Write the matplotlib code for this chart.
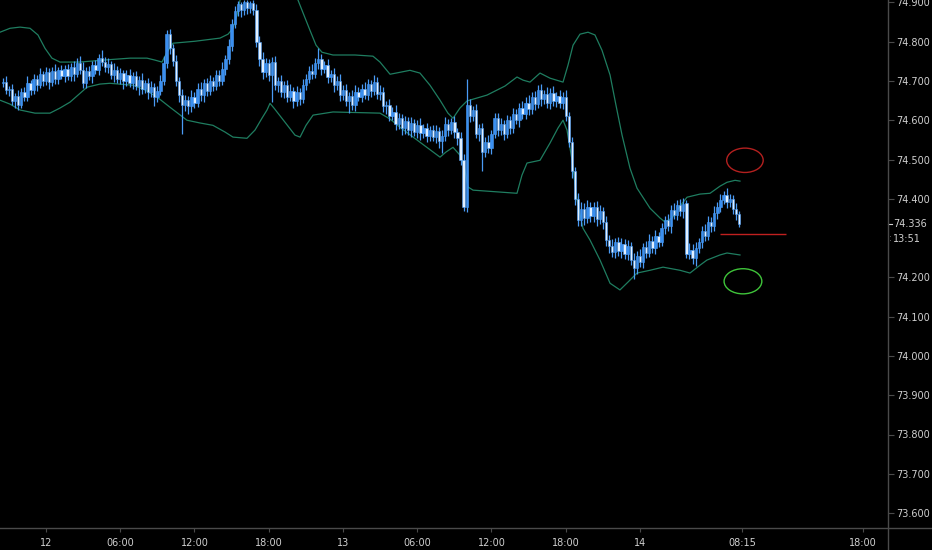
import matplotlib
matplotlib.use("Agg")
import matplotlib.pyplot as plt
from matplotlib.patches import Ellipse
from matplotlib.lines import Line2D

# ------------------------------------------------------------
# Data: 15-minute candles, prices in thousandths above 74.000
# time axis in hours from the 12th 00:00
# ------------------------------------------------------------
first_hour = -3.5
candle_step = 0.25
first_open = 695

closes = [
    698, 676, 680, 650, 662, 640, 672, 660, 695, 678,
    705, 690, 718, 700, 722, 698, 725, 705, 728, 712,
    730, 712, 735, 718, 745, 728, 695, 725, 712, 740,
    728, 758, 748, 735, 742, 715, 728, 705, 720, 700,
    715, 695, 712, 688, 702, 680, 695, 672, 685, 660,
    675, 700, 745, 820, 785, 750, 700, 665, 640, 652,
    635, 660, 645, 680, 665, 695, 675, 700, 688, 715,
    700, 730, 755, 790, 845, 878, 895, 880, 900, 885,
    898, 880, 800, 755, 722, 745, 715, 748, 690, 700,
    672, 690, 660, 675, 650, 672, 655, 690, 705, 725,
    718, 745, 755, 730, 740, 710, 718, 690, 700, 665,
    678, 650, 662, 640, 672, 660, 680, 665, 692, 675,
    698, 668, 672, 635, 640, 612, 622, 590, 605, 580,
    598, 575, 592, 570, 588, 568, 580, 560, 575, 558,
    572, 548, 560, 590, 575, 595, 570, 555, 500, 380,
    640, 612, 625, 565, 580, 520, 545, 530, 565, 605,
    575, 590, 565, 600, 580, 615, 600, 632, 615, 645,
    628, 658, 642, 678, 655, 668, 645, 670, 648, 662,
    645, 660, 610, 545, 470, 400, 345, 375, 350, 380,
    355, 378, 348, 370, 340, 295, 280, 265, 290, 268,
    285, 260, 280, 245, 225, 255, 240, 278, 262, 292,
    275, 305, 290, 325, 345, 330, 372, 360, 385, 368,
    388, 260, 270, 248, 275, 290, 318, 305, 342, 330,
    365, 380, 398, 410, 392, 400, 375, 362, 336,
]

up_wick = [
    10, 14, 8, 12, 7, 16, 10, 13, 18, 8,
    13, 10, 16, 8, 14, 11, 10, 17, 8, 13,
    11, 14, 10, 16, 13, 18, 20, 10, 13, 11,
    14, 10, 22, 13, 16, 10, 18, 11, 14, 8,
    13, 16, 10, 14, 11, 17, 8, 13, 16, 10,
    11, 14, 18, 9, 13, 10, 16, 11, 14, 13,
    10, 16, 11, 14, 18, 10, 13, 16, 11, 14,
    13, 17, 10, 16, 13, 14, 8, 6, 5, 7,
    6, 8, 16, 14, 18, 13, 11, 13, 16, 10,
    14, 11, 13, 18, 10, 14, 11, 16, 13, 14,
    17, 13, 28, 14, 11, 16, 10, 14, 13, 18,
    11, 14, 10, 16, 18, 13, 11, 17, 14, 10,
    16, 11, 18, 13, 10, 14, 11, 16, 13, 10,
    14, 11, 16, 10, 13, 17, 11, 14, 10, 13,
    16, 11, 14, 18, 13, 10, 16, 11, 14, 13,
    66, 13, 11, 16, 10, 14, 13, 17, 11, 14,
    13, 16, 11, 14, 10, 17, 13, 11, 16, 14,
    18, 13, 16, 11, 14, 10, 17, 13, 16, 11,
    14, 13, 16, 10, 13, 11, 14, 18, 13, 16,
    11, 14, 17, 13, 10, 16, 13, 18, 11, 14,
    16, 13, 14, 11, 17, 13, 16, 10, 14, 18,
    13, 16, 11, 14, 10, 17, 13, 16, 11, 14,
    13, 10, 18, 14, 16, 11, 13, 17, 14, 11,
    16, 13, 14, 11, 18, 13, 10, 14, 6,
]

dn_wick = [
    11, 8, 14, 10, 18, 13, 8, 11, 10, 14,
    10, 16, 8, 13, 11, 18, 10, 14, 13, 8,
    14, 10, 13, 18, 8, 11, 14, 13, 10, 16,
    11, 14, 10, 13, 16, 11, 18, 10, 14, 20,
    13, 10, 16, 11, 24, 14, 10, 18, 13, 25,
    14, 11, 10, 13, 16, 13, 14, 18, 75, 16,
    18, 13, 14, 11, 16, 18, 13, 10, 14, 11,
    13, 10, 16, 11, 14, 10, 13, 16, 11, 14,
    13, 11, 14, 16, 18, 13, 16, 69, 14, 18,
    13, 16, 14, 11, 18, 13, 16, 10, 14, 11,
    13, 10, 14, 16, 11, 14, 13, 18, 14, 16,
    13, 14, 32, 13, 16, 11, 14, 10, 13, 16,
    11, 14, 16, 13, 18, 14, 11, 16, 13, 18,
    14, 13, 17, 11, 14, 18, 13, 16, 14, 11,
    16, 18, 31, 13, 14, 11, 16, 18, 14, 12,
    13, 16, 14, 11, 18, 50, 14, 13, 16, 11,
    14, 13, 16, 11, 14, 13, 10, 16, 13, 11,
    14, 13, 16, 11, 18, 14, 13, 16, 11, 14,
    13, 16, 11, 14, 18, 16, 14, 13, 16, 11,
    14, 13, 18, 11, 16, 14, 17, 13, 16, 14,
    18, 13, 16, 14, 30, 17, 13, 16, 14, 11,
    14, 16, 13, 11, 14, 13, 16, 11, 14, 13,
    16, 11, 14, 13, 18, 14, 16, 13, 11, 14,
    13, 16, 14, 11, 16, 14, 13, 16, 8,
]

# Bollinger bands (hours, thousandths above 74.000)
upper_hours = [-3.72, -2.91, -2.10, -1.29, -0.65, -0.08, 0.48, 1.13, 2.75, 4.61,
               6.79, 8.16, 8.81, 9.37, 9.78, 10.26, 12.04, 14.06, 14.71, 15.11,
               15.43, 15.76, 16.48, 17.70, 18.91, 19.72, 20.36, 20.85, 21.33, 21.82,
               22.30, 23.19, 24.97, 26.42, 26.99, 27.80, 28.61, 29.41, 30.22, 31.03,
               31.84, 32.48, 32.89, 33.45, 34.02, 35.64, 37.09, 38.06, 38.55, 39.11,
               39.92, 40.73, 41.78, 42.18, 42.59, 43.15, 43.80, 44.36, 44.93, 45.58,
               46.06, 46.55, 47.19, 47.76, 48.81, 49.62, 50.02, 50.59, 51.23, 51.80,
               52.85, 53.66, 54.46, 55.03, 55.68, 56.08]
upper_band = [824, 834, 837, 834, 817, 783, 758, 748, 748, 753,
              758, 758, 753, 748, 773, 796, 801, 809, 819, 834,
              867, 918, 982, 1020, 995, 944, 906, 867, 829, 791,
              773, 766, 766, 763, 748, 717, 722, 727, 720, 689,
              651, 618, 605, 631, 649, 664, 687, 710, 702, 697,
              720, 707, 697, 740, 791, 819, 824, 817, 778, 715,
              638, 562, 478, 427, 376, 351, 341, 351, 381, 404,
              412, 414, 432, 442, 447, 445]

lower_hours = [-3.72, -2.91, -2.10, -0.89, 0.32, 1.13, 1.94, 2.59, 3.31, 4.36,
               5.17, 7.03, 8.00, 8.97, 10.02, 11.39, 12.44, 13.49, 14.46, 15.11,
               16.24, 16.89, 17.45, 17.86, 18.10, 18.42, 19.31, 20.12, 20.53, 21.01,
               21.58, 23.19, 26.99, 27.80, 28.61, 30.22, 31.84, 32.32, 32.89, 33.45,
               33.78, 34.10, 34.51, 38.06, 38.46, 38.87, 39.92, 40.73, 41.37, 41.78,
               42.10, 42.51, 42.91, 43.39, 43.96, 44.77, 45.58, 46.38, 47.03, 47.76,
               48.81, 49.86, 51.23, 52.04, 52.85, 53.41, 54.46, 55.03, 56.08]
lower_band = [651, 641, 626, 618, 618, 631, 646, 664, 684, 692,
              694, 689, 677, 659, 633, 600, 593, 587, 570, 557,
              554, 575, 605, 626, 643, 631, 595, 562, 557, 587,
              613, 621, 618, 603, 582, 544, 506, 519, 531, 511,
              486, 430, 422, 414, 460, 491, 498, 542, 580, 600,
              575, 498, 397, 325, 295, 244, 185, 168, 188, 211,
              218, 226, 218, 211, 231, 244, 257, 262, 257]

# Price axis / time axis labels
price_ticks = [73.6, 73.7, 73.8, 73.9, 74.0, 74.1, 74.2, 74.4, 74.5, 74.6, 74.7, 74.8, 74.9]
time_ticks = [0, 6, 12, 18, 24, 30, 36, 42, 48, 56.25, 66]
time_labels = ["12", "06:00", "12:00", "18:00", "13", "06:00", "12:00", "18:00",
               "14", "08:15", "18:00"]
last_price = 74.336
countdown = "13:51"

# drawings on the chart
red_ellipse = (56.48, 74.498)
green_ellipse = (56.32, 74.190)
red_line = (54.5, 59.8, 74.310)


def px(v):
    return 74.0 + v / 1000.0


BG = "#000000"
TXT = "#d0d0d0"
AXC = "#4a4a4a"
BULL = "#3a8ff0"
BEAR = "#e2f0ff"
WICK = "#4a9bf5"
BAND = "#1f7d60"

fig = plt.figure(figsize=(9.32, 5.5), dpi=100, facecolor=BG)
ax = fig.add_axes([0, 22 / 550, 888 / 932, 528 / 550])
ax.set_facecolor(BG)

opens = [first_open] + closes[:-1]
for i, c in enumerate(closes):
    t = first_hour + i * candle_step
    o = opens[i]
    hi = max(o, c) + up_wick[i]
    lo = min(o, c) - dn_wick[i]
    ax.vlines(t, px(lo), px(hi), color=WICK, linewidth=0.9, zorder=2)
    bottom = min(o, c)
    height = max(abs(c - o), 1.5)
    face = BEAR if c < o else BULL
    ax.bar(t, height / 1000.0, width=0.19, bottom=px(bottom), color=face,
           edgecolor=WICK, linewidth=0.4, zorder=3)

ax.plot(upper_hours, [px(v) for v in upper_band], color=BAND, linewidth=0.9, zorder=1)
ax.plot(lower_hours, [px(v) for v in lower_band], color=BAND, linewidth=0.9, zorder=1)

# ellipses and line drawn by the user
ax.add_patch(Ellipse(red_ellipse, width=2.95, height=0.062, fill=False,
                     edgecolor="#b3201f", linewidth=1.0, zorder=4))
ax.add_patch(Ellipse(green_ellipse, width=3.05, height=0.064, fill=False,
                     edgecolor="#3fc43a", linewidth=1.0, zorder=4))
ax.hlines(red_line[2], red_line[0], red_line[1], color="#c0201f", linewidth=1.0, zorder=4)

x0 = (0 - 46) / 12.375
x1 = (888 - 46) / 12.375
ax.set_xlim(x0, x1)
ax.set_ylim(px(-438), px(906))

ax.yaxis.tick_right()
ax.set_yticks(price_ticks)
ax.set_yticklabels([f"{p:.3f}" for p in price_ticks])
ax.set_xticks(time_ticks)
ax.set_xticklabels(time_labels)
ax.tick_params(axis="y", colors=AXC, labelcolor=TXT, labelsize=7, length=4, width=0.8, pad=2)
ax.tick_params(axis="x", colors=AXC, labelcolor=TXT, labelsize=7, length=3, width=0.8, pad=4)

for side in ["top", "left", "right", "bottom"]:
    ax.spines[side].set_visible(False)

# axis lines across the whole figure like the platform frame
fig.add_artist(Line2D([0, 1], [22 / 550, 22 / 550], color=AXC, linewidth=1.0))
fig.add_artist(Line2D([888 / 932, 888 / 932], [0, 1], color=AXC, linewidth=1.0))

# last price and candle countdown
ytr = ax.get_yaxis_transform()
ax.text(1.0058, last_price, f"{last_price:.3f}", transform=ytr, color=TXT,
        fontsize=7, va="center", ha="left", clip_on=False)
ax.plot([1.0, 1.004], [last_price, last_price], transform=ytr, color=TXT,
        linewidth=0.8, clip_on=False)
ax.text(1.0058, last_price - 0.038, countdown, transform=ytr, color=TXT,
        fontsize=7, va="center", ha="left", clip_on=False)
ax.text(1.0015, last_price - 0.038, ":", transform=ytr, color="#888888",
        fontsize=6, va="center", ha="left", clip_on=False)

fig.savefig("out.png", dpi=100, facecolor=BG)
